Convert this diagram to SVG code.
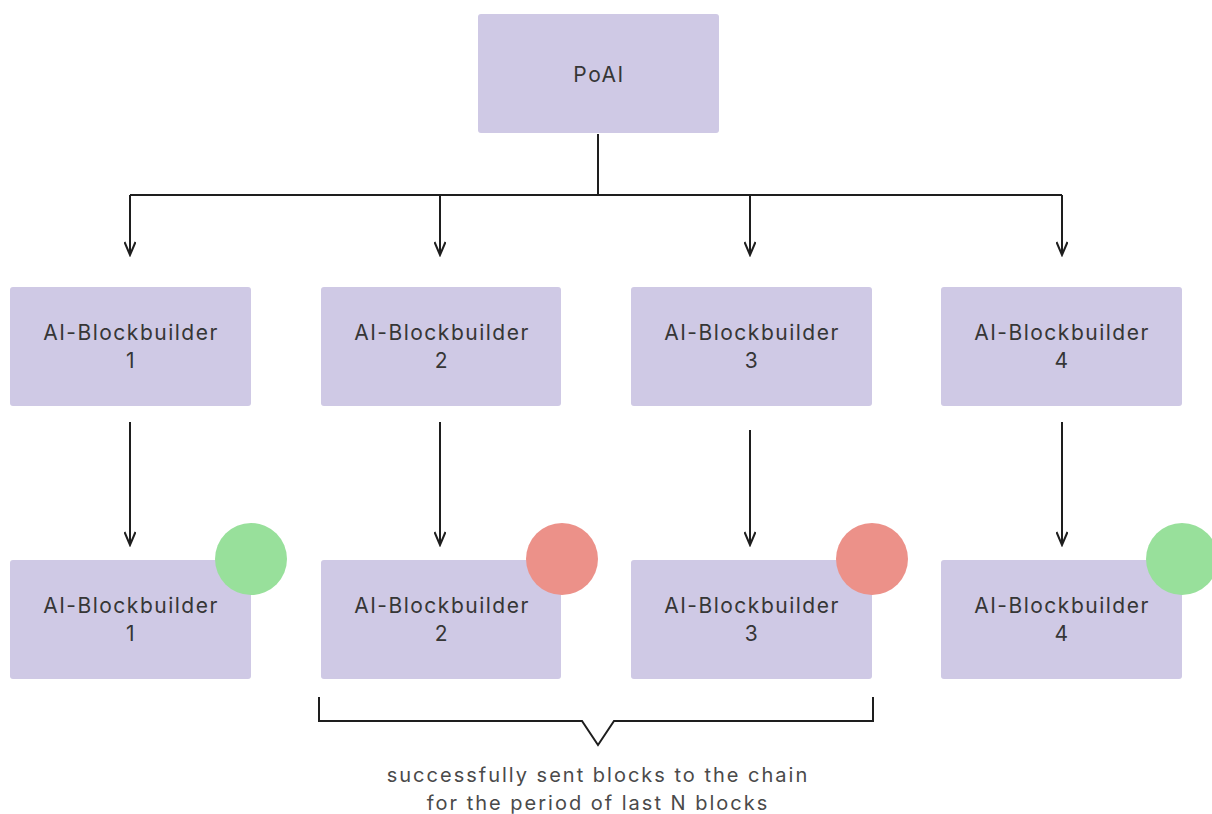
<svg xmlns="http://www.w3.org/2000/svg" width="1212" height="814" viewBox="0 0 1212 814">
<defs>
<style>
.box{fill:#cfc9e5;}
.lbl{font-family:Inter,"Liberation Sans",sans-serif;font-size:21px;fill:#363636;text-anchor:middle;letter-spacing:1.5px;}
.cap{font-family:Inter,"Liberation Sans",sans-serif;font-size:20px;fill:#4a4a4a;text-anchor:middle;letter-spacing:2px;}
.ln{fill:none;stroke:#1e1e1e;stroke-width:2;}
.ok{fill:#98e09b;}
.bad{fill:#ec9189;}
</style>
<marker id="arr" markerWidth="16" markerHeight="12" refX="14" refY="6" orient="auto" markerUnits="userSpaceOnUse">
<path d="M1,0.5 L14,6 L1,11.5" fill="none" stroke="#1e1e1e" stroke-width="2"/>
</marker>
</defs>
<rect width="1212" height="814" fill="#ffffff"/>
<g id="connectors">
<path class="ln" d="M598,134 V195 M130,195 H1062"/>
<path class="ln" d="M130,195 V255" marker-end="url(#arr)"/>
<path class="ln" d="M440,195 V255" marker-end="url(#arr)"/>
<path class="ln" d="M750,195 V255" marker-end="url(#arr)"/>
<path class="ln" d="M1062,195 V255" marker-end="url(#arr)"/>
<path class="ln" d="M130,422 V545" marker-end="url(#arr)"/>
<path class="ln" d="M440,422 V545" marker-end="url(#arr)"/>
<path class="ln" d="M750,430 V545" marker-end="url(#arr)"/>
<path class="ln" d="M1062,422 V545" marker-end="url(#arr)"/>
</g>
<g id="poai"><rect class="box" x="478" y="14" width="241" height="119" rx="3"/><text class="lbl" x="599" y="82">PoAI</text></g>
<g id="mid1"><rect class="box" x="10" y="287" width="241" height="119" rx="3"/><text class="lbl" x="131" y="340">AI-Blockbuilder</text><text class="lbl" x="131" y="368">1</text></g>
<g id="mid2"><rect class="box" x="321" y="287" width="240" height="119" rx="3"/><text class="lbl" x="442" y="340">AI-Blockbuilder</text><text class="lbl" x="442" y="368">2</text></g>
<g id="mid3"><rect class="box" x="631" y="287" width="241" height="119" rx="3"/><text class="lbl" x="752" y="340">AI-Blockbuilder</text><text class="lbl" x="752" y="368">3</text></g>
<g id="mid4"><rect class="box" x="941" y="287" width="241" height="119" rx="3"/><text class="lbl" x="1062" y="340">AI-Blockbuilder</text><text class="lbl" x="1062" y="368">4</text></g>
<g id="bot1"><rect class="box" x="10" y="560" width="241" height="119" rx="3"/><text class="lbl" x="131" y="613">AI-Blockbuilder</text><text class="lbl" x="131" y="641">1</text><circle class="ok" cx="251" cy="559" r="36"/></g>
<g id="bot2"><rect class="box" x="321" y="560" width="240" height="119" rx="3"/><text class="lbl" x="442" y="613">AI-Blockbuilder</text><text class="lbl" x="442" y="641">2</text><circle class="bad" cx="562" cy="559" r="36"/></g>
<g id="bot3"><rect class="box" x="631" y="560" width="241" height="119" rx="3"/><text class="lbl" x="752" y="613">AI-Blockbuilder</text><text class="lbl" x="752" y="641">3</text><circle class="bad" cx="872" cy="559" r="36"/></g>
<g id="bot4"><rect class="box" x="941" y="560" width="241" height="119" rx="3"/><text class="lbl" x="1062" y="613">AI-Blockbuilder</text><text class="lbl" x="1062" y="641">4</text><circle class="ok" cx="1182" cy="559" r="36"/></g>
<g id="bracket">
<path class="ln" d="M319,697 V721 H582 L598,745 L614,721 H873 V697"/>
<text class="cap" x="598" y="782">successfully sent blocks to the chain</text>
<text class="cap" x="598" y="810">for the period of last N blocks</text>
</g>
</svg>
